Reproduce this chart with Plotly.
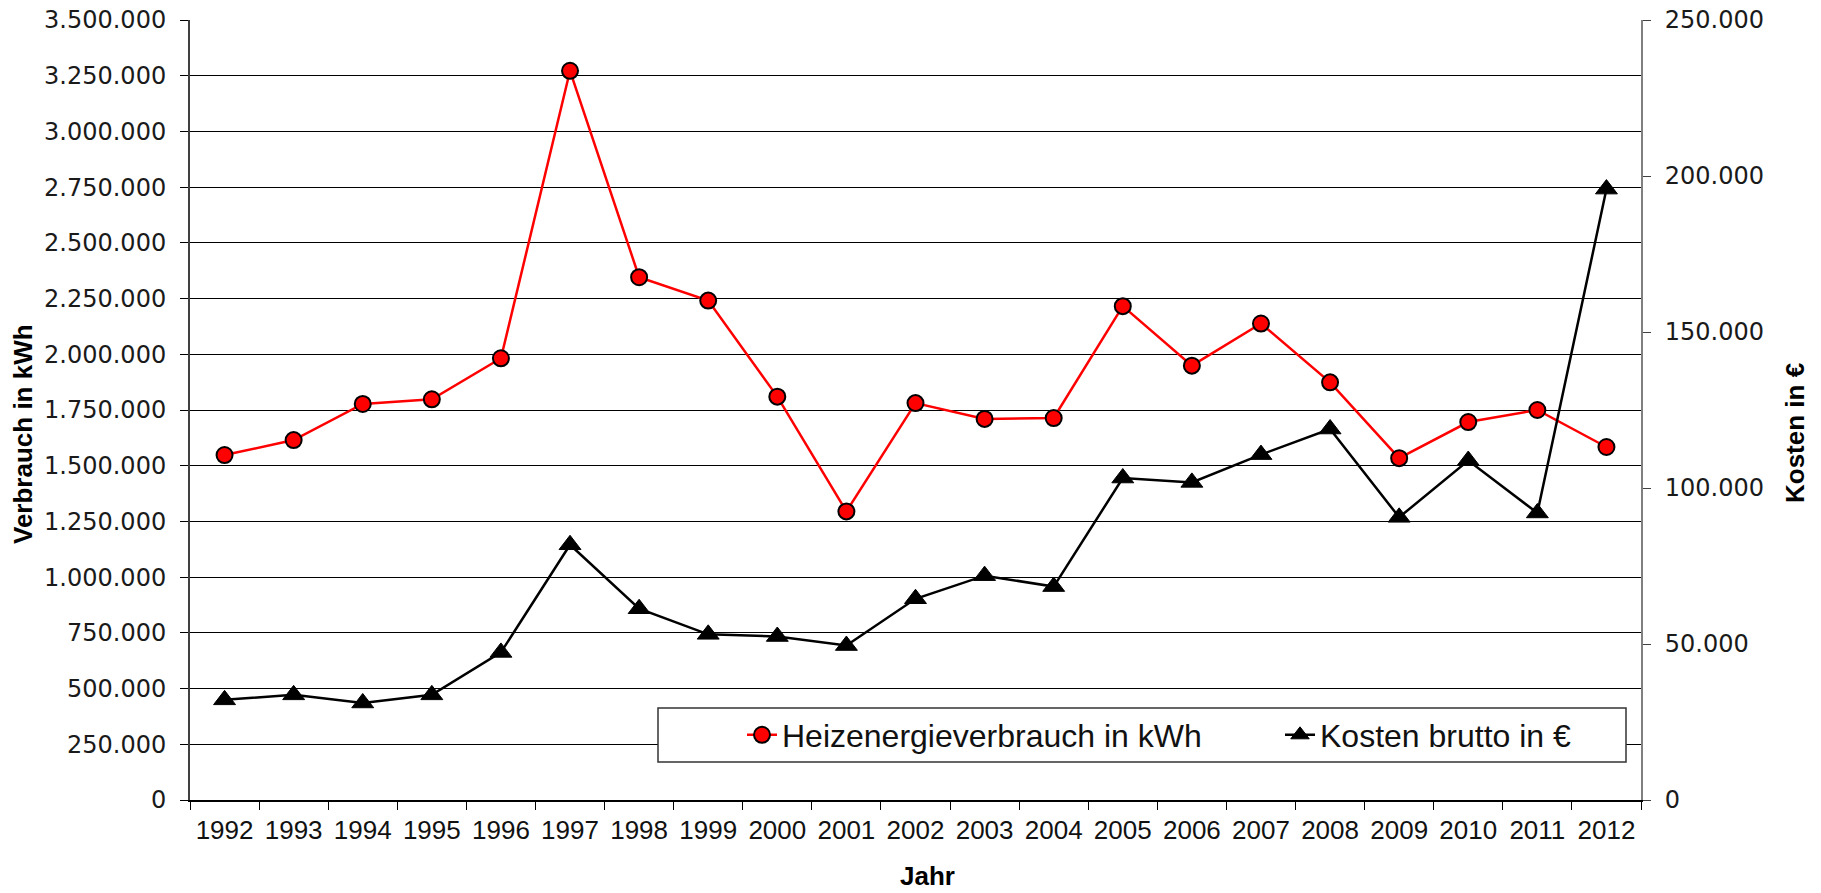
import plotly.graph_objects as go

# ---- data ----
years = ["1992", "1993", "1994", "1995", "1996", "1997", "1998", "1999", "2000", "2001", "2002",
         "2003", "2004", "2005", "2006", "2007", "2008", "2009", "2010", "2011", "2012"]
verbrauch_kwh = [1548000, 1615000, 1777000, 1798000, 1982000, 3272000, 2346000, 2241000, 1810000,
                 1295000, 1781000, 1710000, 1714000, 2216000, 1949000, 2138000, 1874000, 1534000,
                 1696000, 1750000, 1584000]
kosten_eur = [32100, 33700, 31100, 33700, 47300, 81800, 61300, 53100, 52400, 49500, 64500,
              71900, 68400, 103200, 101800, 110700, 118900, 90600, 108800, 92000, 195800]

name_verbrauch = "Heizenergieverbrauch in kWh"
name_kosten = "Kosten brutto in €"
title_left = "Verbrauch in kWh"
title_right = "Kosten in €"
title_x = "Jahr"

# ---- layout geometry (pixels) ----
W, H = 1821, 893
L, R, T, B = 190, 1641, 20, 800
PW, PH = R - L, B - T


def px(x):
    return (x - L) / PW


def py(y):
    return (B - y) / PH


fig = go.Figure()
fig.add_trace(go.Scatter(
    x=years, y=verbrauch_kwh, name=name_verbrauch, mode="lines+markers",
    line=dict(color="#FF0000", width=2.5),
    marker=dict(symbol="circle", size=16, color="#FF0000", line=dict(color="#000000", width=2)),
    legend="legend", yaxis="y",
))
fig.add_trace(go.Scatter(
    x=years, y=kosten_eur, name=name_kosten, mode="lines+markers",
    line=dict(color="#000000", width=2.5),
    marker=dict(symbol="triangle-up", size=19, color="#000000", line=dict(color="#000000", width=1)),
    legend="legend2", yaxis="y2",
))

tickfont_y = dict(family="DejaVu Sans", size=24, color="#1a1a1a")
sans = "Liberation Sans, Arial, Helvetica, sans-serif"

fig.update_layout(
    width=W, height=H,
    margin=dict(l=L, r=W - R, t=T, b=H - B, pad=0, autoexpand=False),
    paper_bgcolor="white", plot_bgcolor="white",
    separators=",.",
    showlegend=True,
    xaxis=dict(
        type="category", range=[-0.5, 20.5], showgrid=False, automargin=False,
        showline=True, linecolor="#000000", linewidth=2,
        ticks="outside", ticklen=8, tickcolor="#000000", tickwidth=1,
        tickson="boundaries", ticklabelstandoff=6,
        tickfont=dict(family=sans, size=26, color="#111111"),
        zeroline=False,
    ),
    yaxis=dict(
        range=[0, 3500000], dtick=250000, tickformat=",d", automargin=False,
        showgrid=True, gridcolor="#000000", gridwidth=1,
        showline=True, linecolor="#404040", linewidth=2,
        ticks="outside", ticklen=8, tickcolor="#000000", tickwidth=1,
        ticklabelstandoff=9,
        tickfont=tickfont_y, zeroline=False,
    ),
    yaxis2=dict(
        range=[0, 250000], dtick=50000, tickformat=",d", automargin=False,
        overlaying="y", side="right", showgrid=False,
        showline=True, linecolor="#808080", linewidth=2,
        ticks="outside", ticklen=8, tickcolor="#404040", tickwidth=1,
        ticklabelstandoff=9,
        tickfont=tickfont_y, zeroline=False,
    ),
    legend=dict(
        orientation="h", x=px(742), xanchor="left", y=py(735), yanchor="middle",
        bgcolor="rgba(0,0,0,0)", borderwidth=0,
        font=dict(family=sans, size=32, color="#111111"),
        itemwidth=30,
    ),
    legend2=dict(
        orientation="h", x=px(1280), xanchor="left", y=py(735), yanchor="middle",
        bgcolor="rgba(0,0,0,0)", borderwidth=0,
        font=dict(family=sans, size=32, color="#111111"),
        itemwidth=30,
    ),
    shapes=[dict(
        type="rect", xref="paper", yref="paper",
        x0=px(658), x1=px(1626), y0=py(762), y1=py(708),
        line=dict(color="#333333", width=1.5), fillcolor="white", layer="above",
    )],
    annotations=[
        dict(text=f"<b>{title_left}</b>", xref="paper", yref="paper",
             x=px(23), y=py(434), xanchor="center", yanchor="middle", textangle=-90,
             showarrow=False, font=dict(family=sans, size=26, color="#000000")),
        dict(text=f"<b>{title_right}</b>", xref="paper", yref="paper",
             x=px(1795), y=py(433), xanchor="center", yanchor="middle", textangle=-90,
             showarrow=False, font=dict(family=sans, size=26, color="#000000")),
        dict(text=f"<b>{title_x}</b>", xref="paper", yref="paper",
             x=px(927), y=py(876), xanchor="center", yanchor="middle",
             showarrow=False, font=dict(family=sans, size=26, color="#000000")),
    ],
)

fig.write_html(
    "out.html",
    config={"displayModeBar": False},
    post_script="document.body.style.margin='0';document.body.style.overflow='hidden';",
)
